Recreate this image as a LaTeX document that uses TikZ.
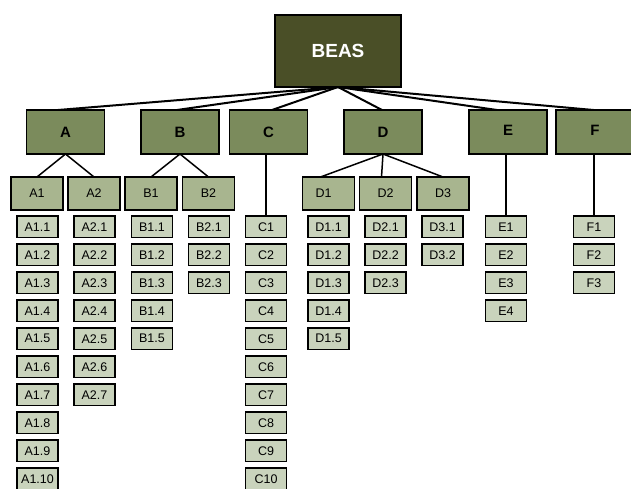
\documentclass[tikz,border=0pt]{standalone}
\usepackage{fontspec}
\setmainfont{Liberation Sans}
\definecolor{rootfill}{HTML}{4A4F27}
\definecolor{grpfill}{HTML}{7B8B5C}
\definecolor{subfill}{HTML}{A8B58F}
\definecolor{leaffill}{HTML}{C9D3BC}
\begin{document}
\begin{tikzpicture}[x=1pt,y=-1pt,
  box/.style={draw=black,inner sep=0pt,outer sep=0pt,align=center},
  rootbox/.style={box,fill=rootfill,line width=2pt,minimum width=126pt,minimum height=72pt,
    text=white,font=\fontsize{19}{21}\selectfont\bfseries},
  grpbox/.style={box,fill=grpfill,line width=1.8pt,minimum width=78pt,minimum height=44pt,
    font=\fontsize{15}{17}\selectfont\bfseries},
  subbox/.style={box,fill=subfill,line width=1.8pt,minimum width=52pt,minimum height=33pt,
    font=\fontsize{12.5}{14}\selectfont},
  leafbox/.style={box,fill=leaffill,line width=1.6pt,minimum width=41pt,minimum height=21.5pt,
    font=\fontsize{12.5}{14}\selectfont},
  toplink/.style={line width=2pt},
  link/.style={line width=1.5pt}]
\useasboundingbox (0,0) rectangle (631,489);
\begin{scope}
\clip (0,0) rectangle (631,489);

% root
\node[rootbox] (beas) at (338,51) {BEAS};

% first level
\node[grpbox] (A) at (65.5,132) {A};
\node[grpbox] (B) at (180,132) {B};
\node[grpbox] (C) at (268.5,132) {C};
\node[grpbox] (D) at (383,132) {D};
\node[grpbox] (E) at (508,132) {\raisebox{3pt}{E}};
\node[grpbox] (F) at (595,132) {\raisebox{3pt}{F}};

\foreach \g/\dx in {A/-7.5,B/-3,C/3.5,D/-1,E/-11,F/-1.5}
  \draw[toplink] (beas.south) -- ([xshift=\dx pt]\g.north);

% second level
\node[subbox] (A1) at (37,193.5) {A1};
\node[subbox] (A2) at (94,193.5) {A2};
\node[subbox] (B1) at (151,193.5) {B1};
\node[subbox] (B2) at (208.5,193.5) {B2};
\node[subbox] (D1) at (328.5,193.5) {D1\hspace{10pt}};
\node[subbox] (D2) at (385.5,193.5) {D2};
\node[subbox] (D3) at (443,193.5) {D3};

\draw[link] (A.south) -- (A1.north);
\draw[link] (A.south) -- (A2.north);
\draw[link] (B.south) -- (B1.north);
\draw[link] (B.south) -- (B2.north);
\draw[link] (D.south) -- ([xshift=-8pt]D1.north);
\draw[link] (D.south) -- ([xshift=-4pt]D2.north);
\draw[link] (D.south) -- (D3.north);

% leaves
\foreach \k in {1,...,10}
  \node[leafbox] (A1-\k) at (37.5,{226.75+28*(\k-1)}) {A1.\k};
\foreach \k in {1,...,7}
  \node[leafbox] (A2-\k) at (94.5,{226.75+28*(\k-1)}) {A2.\k};
\foreach \k in {1,...,5}
  \node[leafbox] (B1-\k) at (152,{226.75+28*(\k-1)}) {B1.\k};
\foreach \k in {1,...,3}
  \node[leafbox] (B2-\k) at (209,{226.75+28*(\k-1)}) {B2.\k};
\foreach \k in {1,...,10}
  \node[leafbox] (C-\k) at (266,{226.75+28*(\k-1)}) {C\k};
\foreach \k in {1,...,5}
  \node[leafbox] (D1-\k) at (328.5,{226.75+28*(\k-1)}) {D1.\k};
\foreach \k in {1,...,3}
  \node[leafbox] (D2-\k) at (385.5,{226.75+28*(\k-1)}) {D2.\k};
\foreach \k in {1,...,2}
  \node[leafbox] (D3-\k) at (442.5,{226.75+28*(\k-1)}) {D3.\k};
\foreach \k in {1,...,4}
  \node[leafbox] (E-\k) at (506,{226.75+28*(\k-1)}) {E\k};
\foreach \k in {1,...,3}
  \node[leafbox] (F-\k) at (594,{226.75+28*(\k-1)}) {F\k};

% single-column groups hang straight down
\draw[link] (C-1.north) -- (C-1.north |- C.south);
\draw[link] (E-1.north) -- (E-1.north |- E.south);
\draw[link] (F-1.north) -- (F-1.north |- F.south);
\end{scope}
\end{tikzpicture}
\end{document}
